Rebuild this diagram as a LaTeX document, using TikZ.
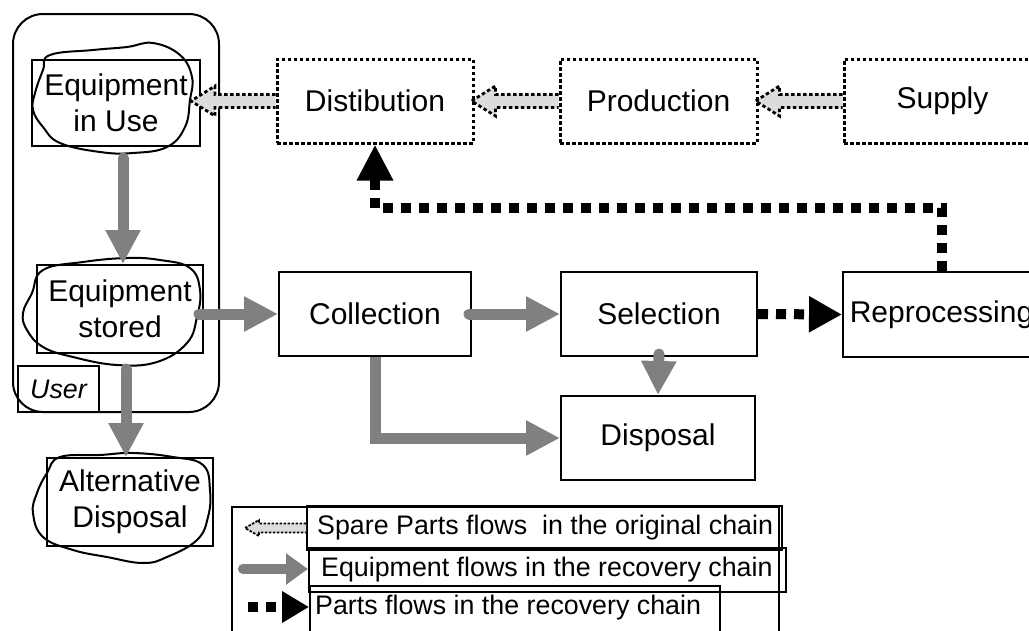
\documentclass[tikz,border=0pt]{standalone}
\usepackage{fontspec}
\setmainfont{Liberation Sans}
\usetikzlibrary{arrows.meta,calc}
\definecolor{flowgray}{HTML}{808080}
\definecolor{sparefill}{HTML}{DCDCDC}
\newcommand\MainFnt{\fontsize{30}{36}\selectfont}
\newcommand\LegFnt{\fontsize{26.8}{30}\selectfont}
% spare-parts block arrow: #1 extra style, #2 tail, #3 tip, #4 shaft half height, #5 head length, #6 head half height
\newcommand\SpareArrow[6]{%
  \path[sparestyle,#1] let \p1=(#2), \p2=(#3) in
    (\x1,{\y1+#4}) -- ({\x2+#5},{\y1+#4}) -- ({\x2+#5},{\y1+#6}) -- (\x2,\y1)
    -- ({\x2+#5},{\y1-#6}) -- ({\x2+#5},{\y1-#4}) -- (\x1,{\y1-#4});}
\tikzset{
  box/.style={draw, line width=2pt, inner sep=0pt, align=center, font=\MainFnt},
  dotbox/.style={box, line width=3pt, dash pattern=on 3.5pt off 2.5pt},
  legbox/.style={draw, line width=2pt, inner sep=0pt},
  legtext/.style={inner sep=0pt, font=\LegFnt, anchor=west},
  cloudline/.style={line width=2pt, black},
  sparestyle/.style={fill=sparefill, draw=black, line width=2.8pt, dash pattern=on 3.5pt off 2.5pt},
  grayflow/.style={draw=flowgray, line width=11pt, line cap=round, -{Triangle[length=34pt,width=33pt]}},
  partsflow/.style={draw=black, line width=10pt, dash pattern=on 10pt off 8pt, -{Triangle[length=33pt,width=34pt]}},
}
\begin{document}
\begin{tikzpicture}[x=1pt,y=-1pt]
\useasboundingbox (0,0) rectangle (1029,630);
\clip (0,0) rectangle (1029,630);

% user frame
\node[draw, line width=2pt, rounded corners=30pt, minimum width=206pt, minimum height=398pt, inner sep=0pt] (userframe) at (116,213) {};

% nodes
\node[box, minimum width=168pt, minimum height=86pt] (use) at (116,103) {Equipment\\in Use};
\node[box, minimum width=166pt, minimum height=88pt] (stored) at (120,309) {Equipment\\stored};
\node[box, minimum width=81pt, minimum height=46pt, font=\LegFnt\itshape] (user) at (58.5,389) {User};
\node[box, minimum width=166pt, minimum height=88pt] (alt) at (130,502) {Alternative\\Disposal};

\node[dotbox, minimum width=196pt, minimum height=84pt] (dist) at (375,101) {Distibution};
\node[dotbox, minimum width=197pt, minimum height=84pt] (prod) at (658.5,101) {Production};
\node[dotbox, minimum width=197pt, minimum height=84pt] (supply) at (942.5,101) {Supply};

\node[box, minimum width=192pt, minimum height=84pt] (coll) at (375,314) {Collection};
\node[box, minimum width=196pt, minimum height=84pt] (sel) at (659,314) {Selection};
\node[box, minimum width=197pt, minimum height=85pt] (repro) at (941.5,314.5) {Reprocessing};
\node[box, minimum width=194pt, minimum height=84pt] (disp) at (658,438) {Disposal};

% hand-drawn outlines
\draw[cloudline] plot[smooth cycle, tension=0.7] coordinates {(50,55) (93,50) (127,47) (153,43) (180,55) (192,77) (190,100) (185,127) (167,147) (133,153) (100,152) (60,143) (43,127) (33,110) (35,93) (43,70)};
\draw[cloudline] plot[smooth cycle, tension=0.7] coordinates {(43,270) (83,262) (127,258) (160,260) (190,268) (200,290) (197,317) (187,343) (157,362) (117,365) (73,357) (43,347) (27,330) (23,313) (32,293)};
\draw[cloudline] plot[smooth cycle, tension=0.7] coordinates {(60,457) (100,455) (133,453) (173,457) (203,465) (210,490) (208,517) (197,540) (167,557) (143,563) (107,557) (73,550) (43,537) (33,513) (37,493) (47,473)};

% spare-parts flows (original chain)
\SpareArrow{}{dist.west}{$(use.east)+(-10,0)$}{6.5pt}{24pt}{15pt}
\SpareArrow{}{prod.west}{$(dist.east)+(-3,0)$}{6.5pt}{24pt}{15pt}
\SpareArrow{}{supply.west}{$(prod.east)+(-3,0)$}{6.5pt}{24pt}{15pt}

% equipment flows (recovery chain)
\draw[grayflow] ($(use.south)+(7,11)$) -- ($(stored.north)+(3,0)$);
\draw[grayflow] ($(stored.east |- coll.west)+(-5,0)$) -- (coll.west);
\draw[grayflow] ($(stored.south)+(6,15)$) -- ($(alt.north)+(-4,0)$);
\draw[grayflow] ($(coll.east)+(-3,0)$) -- (sel.west);
\draw[grayflow] ($(sel.south)+(0,-3)$) -- (disp.north);
\draw[grayflow, line cap=butt] (coll.south) |- (disp.west);

% parts flows (recovery chain)
\coordinate (turn) at (941,208);
\draw[partsflow] (sel.east) -- (repro.west);
\draw[partsflow, -{Triangle[length=36pt,width=34pt]}] (repro.north) |- (dist.south |- turn) -- (dist.south);

% legend
\node[legbox, minimum width=547pt, minimum height=200pt, anchor=north west] (legend) at (231,506) {};
\node[legbox, minimum width=475pt, minimum height=44pt] (spbox) at (544.5,528) {};
\node[legbox, minimum width=477pt, minimum height=44pt] (eqbox) at (547.5,570) {};
\node[legbox, minimum width=410pt, minimum height=60pt, anchor=north west] (pabox) at (309,585) {};
\node[legtext] (sptext) at (317,528) {Spare Parts flows\ \ in the original chain};
\node[legtext] (eqtext) at (321,570) {Equipment flows in the recovery chain};
\node[legtext] (patext) at (315,608) {Parts flows in the recovery chain};

\coordinate (sptip) at (245,528);
\SpareArrow{line width=1.8pt, dash pattern=on 2.5pt off 1.5pt}{spbox.west}{sptip}{4.5pt}{14pt}{8pt}
\coordinate (eqtail) at (243,569);
\draw[grayflow, line width=10pt, -{Triangle[length=22pt,width=30pt]}] (eqtail) -- (eqbox.west |- eqtail);
\coordinate (patail) at (248,607);
\draw[partsflow, -{Triangle[length=27pt,width=30pt]}] (patail) -- (pabox.west |- patail);
\end{tikzpicture}
\end{document}
